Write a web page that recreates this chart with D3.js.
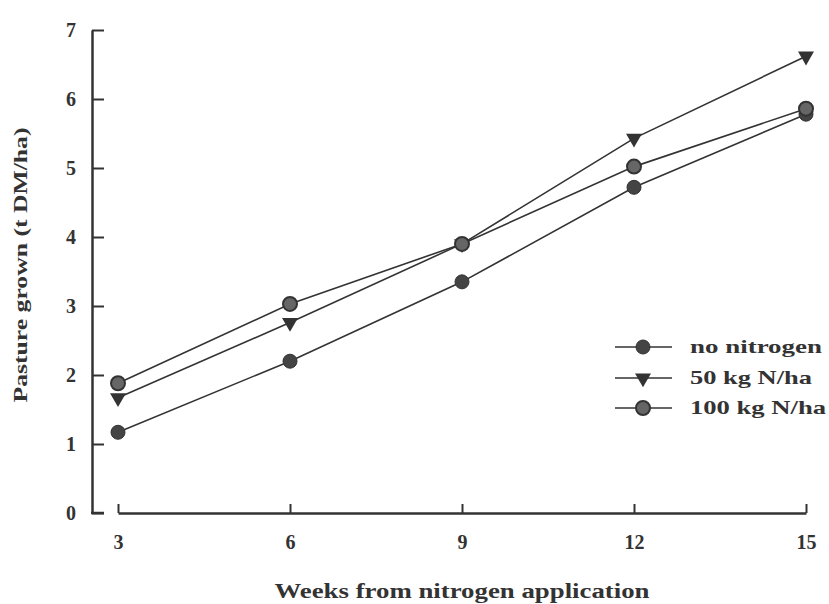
<!DOCTYPE html>
<html>
<head>
<meta charset="utf-8">
<script src="https://cdn.jsdelivr.net/npm/d3@7"></script>
<style>
  body { margin: 0; background: #fff; }
  svg text { font-family: "Liberation Serif", "DejaVu Serif", serif; font-weight: bold; fill: #333; }
</style>
</head>
<body>
<div id="chart"></div>
<script>
// weeks after nitrogen was applied
var weeks = [3, 6, 9, 12, 15];
var yTicks = [0, 1, 2, 3, 4, 5, 6, 7];

// pasture grown, t DM/ha
var noNitrogen = [1.17, 2.2, 3.35, 4.72, 5.78];
var kg50 = [1.67, 2.76, 3.9, 5.43, 6.62];
var kg100 = [1.88, 3.03, 3.9, 5.02, 5.86];

var seriesNames = ["no nitrogen", "50 kg N/ha", "100 kg N/ha"];
var legendWidths = [132, 122, 136];

var width = 829, height = 604;

var svg = d3.select("#chart")
    .append("svg")
    .attr("width", width)
    .attr("height", height);

var x = d3.scaleLinear().domain([3, 15]).range([118, 806]);
var y = d3.scaleLinear().domain([0, 7]).range([513, 30]);

// y axis, ticks pointing inward
var yAxis = svg.append("g")
    .attr("transform", "translate(92,0)")
    .call(d3.axisLeft(y).tickValues(yTicks).tickFormat(d3.format("d"))
        .tickSize(-12).tickSizeOuter(0).tickPadding(16));
yAxis.select(".domain").attr("stroke", "#333").attr("stroke-width", 2.5);
yAxis.selectAll(".tick line").attr("stroke", "#333").attr("stroke-width", 2);
yAxis.selectAll(".tick text").attr("font-size", 20).attr("fill", "#333");

// little foot at the bottom of the y axis
svg.append("line")
    .attr("x1", 91).attr("x2", 104)
    .attr("y1", y(0)).attr("y2", y(0))
    .attr("stroke", "#333").attr("stroke-width", 2.5);

// x axis, detached from y axis
var xAxis = svg.append("g")
    .attr("transform", "translate(0," + y(0) + ")")
    .call(d3.axisBottom(x).tickValues(weeks).tickSize(-9).tickSizeOuter(0).tickPadding(22));
xAxis.select(".domain").attr("stroke", "#333").attr("stroke-width", 2.5);
xAxis.selectAll(".tick line").attr("stroke", "#333").attr("stroke-width", 2);
xAxis.selectAll(".tick text").attr("font-size", 20).attr("fill", "#333");

// axis titles
svg.append("text")
    .attr("x", 462).attr("y", 598)
    .attr("text-anchor", "middle")
    .attr("font-size", 20)
    .attr("textLength", 375)
    .attr("lengthAdjust", "spacingAndGlyphs")
    .text("Weeks from nitrogen application");

svg.append("text")
    .attr("transform", "translate(27,265) rotate(-90)")
    .attr("text-anchor", "middle")
    .attr("font-size", 19)
    .attr("textLength", 275)
    .attr("lengthAdjust", "spacingAndGlyphs")
    .text("Pasture grown (t DM/ha)");

var line = d3.line()
    .x(function(d, i) { return x(weeks[i]); })
    .y(function(d) { return y(d); });

var allSeries = [noNitrogen, kg50, kg100];

allSeries.forEach(function(s) {
    svg.append("path")
        .datum(s)
        .attr("d", line)
        .attr("fill", "none")
        .attr("stroke", "#333")
        .attr("stroke-width", 1.6);
});

// markers
function drawMarker(g, kind, cx, cy) {
    if (kind == 0) {
        g.append("circle").attr("cx", cx).attr("cy", cy).attr("r", 7)
            .attr("fill", "#444").attr("stroke", "#333").attr("stroke-width", 1);
    } else if (kind == 1) {
        g.append("path")
            .attr("d", d3.symbol().type(d3.symbolTriangle).size(110))
            .attr("transform", "translate(" + cx + "," + cy + ") rotate(180)")
            .attr("fill", "#333");
    } else {
        g.append("circle").attr("cx", cx).attr("cy", cy).attr("r", 7)
            .attr("fill", "#666").attr("stroke", "#333").attr("stroke-width", 2);
    }
}

var marks = svg.append("g");
allSeries.forEach(function(s, k) {
    s.forEach(function(v, i) {
        drawMarker(marks, k, x(weeks[i]), y(v));
    });
});

// legend
var legend = svg.append("g");
var legendY = [347, 378, 408];
seriesNames.forEach(function(name, k) {
    legend.append("line")
        .attr("x1", 615).attr("x2", 672)
        .attr("y1", legendY[k]).attr("y2", legendY[k])
        .attr("stroke", "#333").attr("stroke-width", 1.6);
    drawMarker(legend, k, 643, legendY[k]);
    legend.append("text")
        .attr("x", 690).attr("y", legendY[k] + 6)
        .attr("font-size", 19)
        .attr("textLength", legendWidths[k])
        .attr("lengthAdjust", "spacingAndGlyphs")
        .text(name);
});
</script>
</body>
</html>
